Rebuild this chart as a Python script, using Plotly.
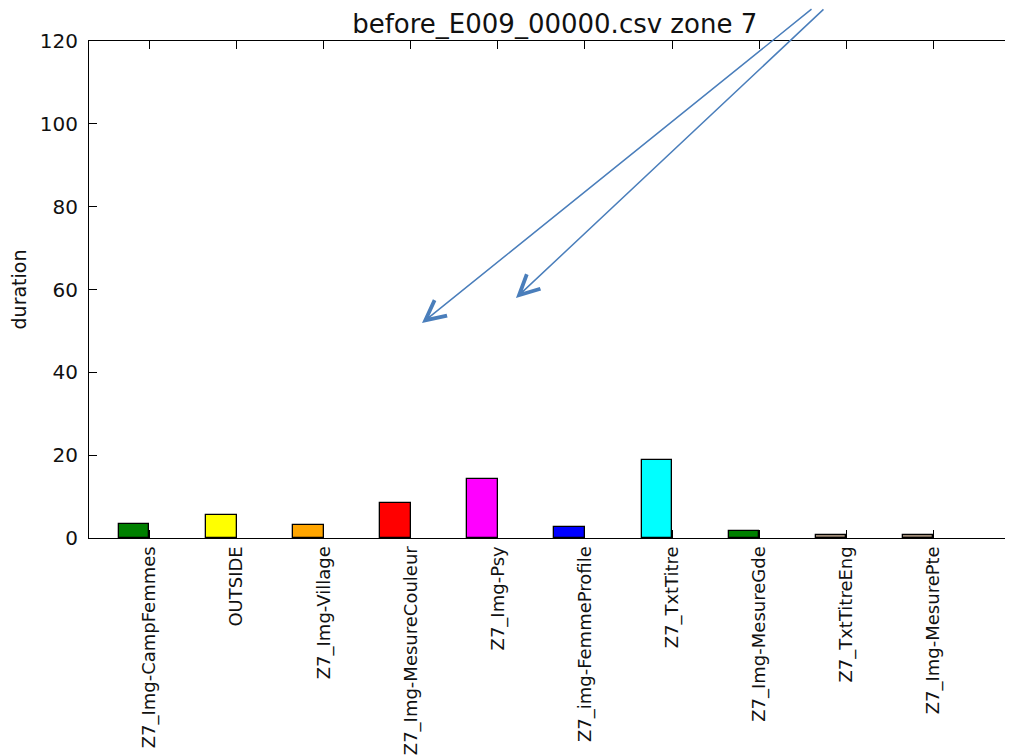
import numpy as np
import plotly.graph_objects as go

categories = ["Z7_Img-CampFemmes", "OUTSIDE", "Z7_Img-Village", "Z7_Img-MesureCouleur",
              "Z7_Img-Psy", "Z7_img-FemmeProfile", "Z7_TxtTitre", "Z7_Img-MesureGde",
              "Z7_TxtTitreEng", "Z7_Img-MesurePte"]
durations = [3.3, 5.5, 3.2, 8.4, 14.2, 2.7, 18.8, 1.7, 0.7, 0.7]
bar_colors = ["#008000", "#ffff00", "#ffa500", "#ff0000", "#ff00ff",
              "#0000ff", "#00ffff", "#008000", "#a08c78", "#a08c78"]
y_ticks = [0, 20, 40, 60, 80, 100, 120]
title_text = "before_E009_00000.csv zone 7"
y_label = "duration"

bar_width = 0.35
pos = np.arange(len(categories))

FONT = "DejaVu Sans"
TXT = "#111111"

# page body adds an 8px offset; compensate in figure size / margins
W, H = 1005, 748
L, T = 81, 33
PLOT_BOTTOM = 530

fig = go.Figure()
fig.add_trace(go.Bar(
    x=pos, y=durations, width=bar_width, offset=0,
    marker=dict(color=bar_colors, line=dict(color="black", width=1.3)),
    showlegend=False,
))

fig.update_layout(
    width=W, height=H,
    margin=dict(l=L, r=0, t=T, b=H - PLOT_BOTTOM),
    paper_bgcolor="white", plot_bgcolor="white",
    font=dict(family=FONT, color=TXT),
    title=dict(text=title_text, x=0.504, xref="paper", xanchor="center",
               y=1 - 16 / H, yref="container", yanchor="middle",
               font=dict(size=26, family=FONT, color=TXT)),
    bargap=0,
)

fig.update_xaxes(
    range=[-0.344, 10.264],
    tickmode="array", tickvals=pos + bar_width, ticktext=categories,
    tickangle=-90, tickfont=dict(size=18, family=FONT, color=TXT),
    ticks="inside", ticklen=8, tickcolor="black", tickwidth=1,
    showline=True, linecolor="black", linewidth=1.2, mirror="ticks",
    showgrid=False, zeroline=False, automargin=False,
)
fig.update_yaxes(
    range=[0, 120], tickmode="array", tickvals=y_ticks,
    tickfont=dict(size=20, family=FONT, color=TXT),
    ticks="inside", ticklen=8, tickcolor="black", tickwidth=1,
    ticklabelstandoff=6,
    showline=True, linecolor="black", linewidth=1.2, mirror=False,
    showgrid=False, zeroline=False, automargin=False,
    title=dict(text=y_label, font=dict(size=19, family=FONT, color=TXT), standoff=14),
)

# overlay markup arrows (drawn on top of the screenshot in the reference)
arrow_color = "#4a7ebb"
for (xp, yp, ax, ay) in [(0.3604, 0.4326, 391, -330), (0.4621, 0.4829, 309, -305)]:
    fig.add_annotation(x=xp, y=yp, xref="paper", yref="paper", text="",
                       showarrow=True, ax=ax, ay=ay, arrowhead=5, arrowsize=2.6,
                       arrowwidth=1.5, arrowcolor=arrow_color, standoff=0)

fig.write_html("out.html")
